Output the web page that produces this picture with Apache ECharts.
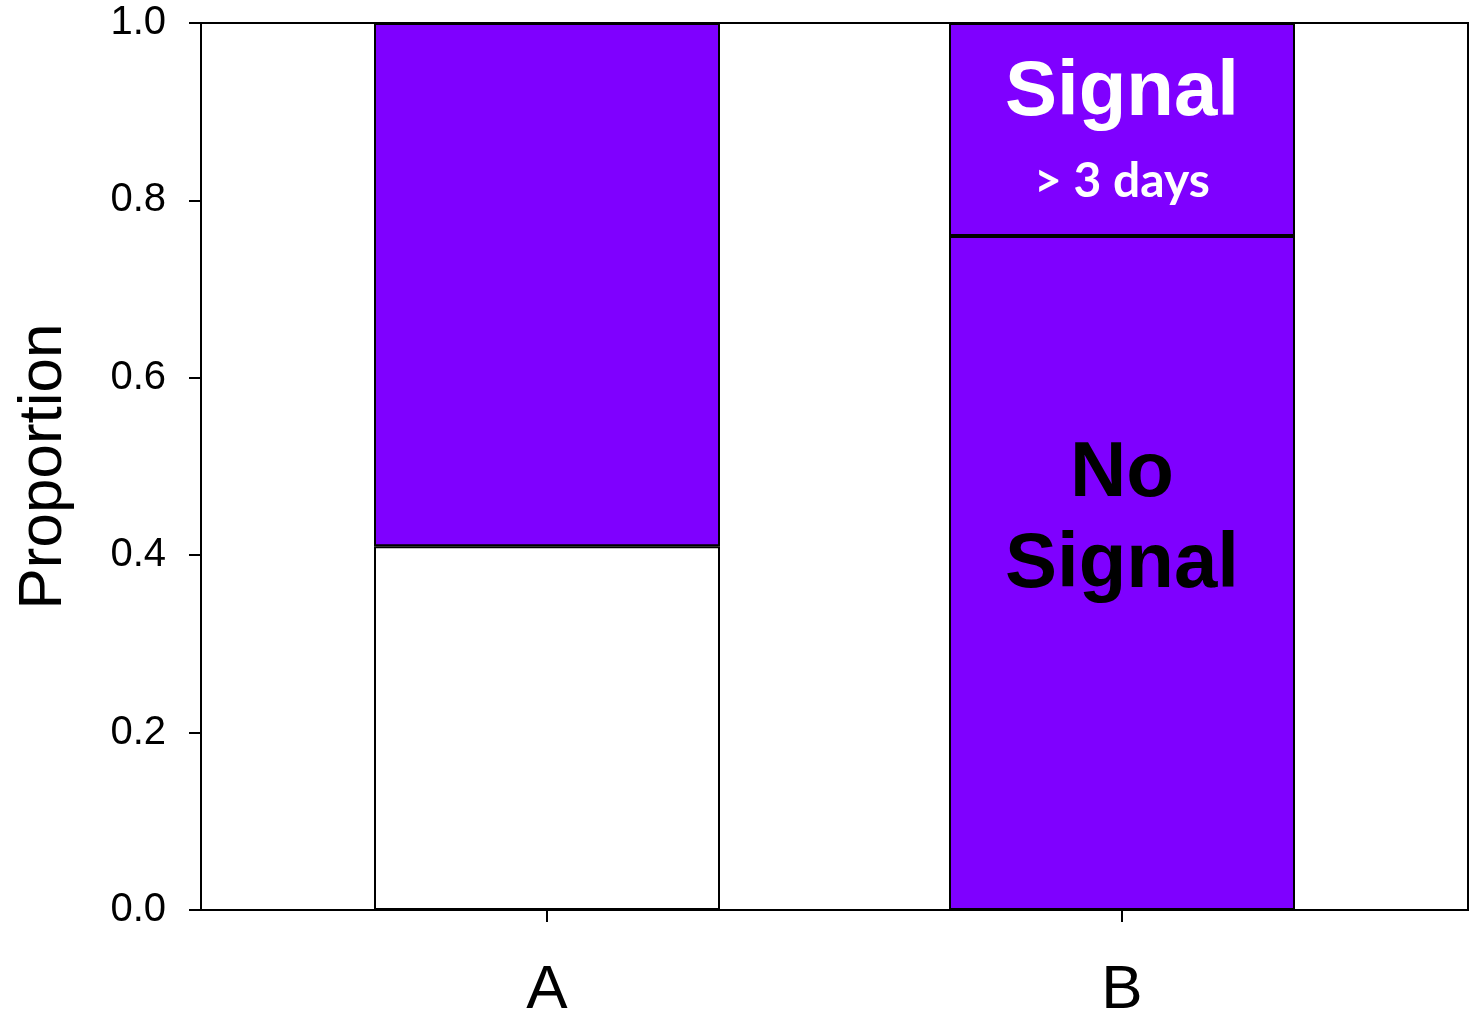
<!DOCTYPE html>
<html>
<head>
<meta charset="utf-8">
<script src="https://cdn.jsdelivr.net/npm/echarts@6/dist/echarts.min.js"></script>
<style>
html,body{margin:0;padding:0;background:#fff;}
#chart{width:1470px;height:1023px;}
</style>
</head>
<body>
<div id="chart"></div>
<script>
const categories = ['A', 'B'];
const bottomValues = [0.41, 0.76];
const topValues = [0.59, 0.24];
const bottomColors = ['#ffffff', '#7f00ff'];
const topColors = ['#7f00ff', '#7f00ff'];
const yTicks = [0, 0.2, 0.4, 0.6, 0.8, 1.0];
const yAxisTitle = 'Proportion';
const bottomLabels = ['', 'No\nSignal'];
const topLabelMain = ['', 'Signal'];
const topLabelSub = ['', '> 3 days'];

const chart = echarts.init(document.getElementById('chart'), null, {renderer: 'canvas'});

const bottomData = bottomValues.map((v, i) => ({
  value: v,
  itemStyle: {color: bottomColors[i]},
  label: {
    show: !!bottomLabels[i],
    formatter: bottomLabels[i],
    position: 'inside',
    offset: [0, -53],
    color: '#000',
    fontFamily: 'Liberation Sans, Arial',
    fontWeight: 'bold',
    fontSize: 78,
    lineHeight: 91
  }
}));

const topData = topValues.map((v, i) => ({
  value: v,
  itemStyle: {color: topColors[i]},
  label: {
    show: !!topLabelMain[i],
    position: 'inside',
    formatter: '{a|' + topLabelMain[i] + '}\n{b|' + topLabelSub[i] + '}',
    rich: {
      a: {color: '#fff', fontFamily: 'Liberation Sans, Arial', fontWeight: 'bold', fontSize: 78, lineHeight: 105},
      b: {color: '#fff', fontFamily: 'Lato', fontWeight: 'bold', fontSize: 48, lineHeight: 71}
    }
  }
}));

const option = {
  backgroundColor: '#fff',
  animation: false,
  grid: [
    {left: 201, right: 2, top: 23, bottom: 113, show: true, borderColor: '#000', borderWidth: 2, backgroundColor: 'transparent'},
    {left: 259.5, right: 60.5, top: 23, bottom: 113}
  ],
  xAxis: [
    {
      gridIndex: 0, type: 'value', min: 0, max: 1,
      axisLine: {show: true, lineStyle: {color: '#000', width: 2}},
      axisTick: {show: false}, axisLabel: {show: false}, splitLine: {show: false}
    },
    {
      gridIndex: 1, type: 'category', data: categories,
      axisLine: {show: false},
      axisTick: {show: true, alignWithLabel: true, length: 12, lineStyle: {color: '#000', width: 2}},
      axisLabel: {color: '#000', fontFamily: 'Liberation Sans, Arial', fontSize: 62, margin: 50},
      splitLine: {show: false}
    }
  ],
  yAxis: [
    {
      gridIndex: 0, type: 'value', min: 0, max: 1, interval: 0.2,
      name: yAxisTitle, nameLocation: 'middle', nameGap: 126, nameRotate: 90,
      nameTextStyle: {color: '#000', fontFamily: 'Liberation Sans, Arial', fontSize: 62},
      axisLine: {show: true, lineStyle: {color: '#000', width: 2}},
      axisTick: {show: true, length: 12, lineStyle: {color: '#000', width: 2}},
      axisLabel: {color: '#000', fontFamily: 'Liberation Sans, Arial', fontSize: 40, margin: 35,
        customValues: yTicks, formatter: v => v.toFixed(1)},
      splitLine: {show: false}
    },
    {
      gridIndex: 1, type: 'value', min: 0, max: 1, show: false
    }
  ],
  series: [
    {
      type: 'bar', xAxisIndex: 1, yAxisIndex: 1, stack: 'total', barWidth: 346,
      itemStyle: {borderColor: '#000', borderWidth: 2},
      data: bottomData
    },
    {
      type: 'bar', xAxisIndex: 1, yAxisIndex: 1, stack: 'total', barWidth: 346,
      itemStyle: {borderColor: '#000', borderWidth: 2},
      data: topData
    }
  ]
};
chart.setOption(option);
</script>
</body>
</html>
